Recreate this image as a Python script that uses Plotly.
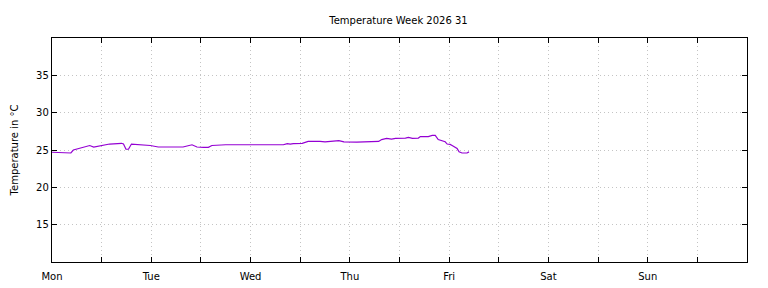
import plotly.graph_objects as go

# time in days since Monday 00:00, temperature in °C
days = [0.00, 0.19, 0.215, 0.28, 0.38, 0.42, 0.47, 0.58, 0.70, 0.72, 0.745, 0.77, 0.80, 0.89, 0.99,
        1.07, 1.32, 1.41, 1.46, 1.525, 1.575, 1.61, 1.68, 1.75, 2.33, 2.37, 2.40, 2.43, 2.52, 2.57,
        2.58, 2.70, 2.75, 2.89, 2.94, 3.07, 3.29, 3.32, 3.37, 3.42, 3.46, 3.56, 3.59, 3.63, 3.69,
        3.71, 3.76, 3.79, 3.83, 3.86, 3.89, 3.93, 3.96, 3.98, 4.01, 4.03, 4.06, 4.08, 4.10, 4.13,
        4.18, 4.20]
temps = [24.7, 24.6, 25.0, 25.2, 25.6, 25.4, 25.5, 25.8, 25.9, 25.8, 25.1, 25.1, 25.8, 25.7, 25.6,
         25.4, 25.4, 25.7, 25.4, 25.35, 25.35, 25.6, 25.7, 25.7, 25.7, 25.85, 25.8, 25.85, 25.9, 26.05,
         26.15, 26.15, 26.1, 26.25, 26.1, 26.05, 26.15, 26.4, 26.55, 26.45, 26.55, 26.6, 26.7, 26.55, 26.6,
         26.8, 26.8, 26.8, 26.95, 26.95, 26.4, 26.25, 26.1, 25.8, 25.75, 25.6, 25.4, 25.2, 24.75, 24.6,
         24.6, 24.75]

x_tickvals = [0, 0.5, 1, 1.5, 2, 2.5, 3, 3.5, 4, 4.5, 5, 5.5, 6, 6.5, 7]
x_ticktext = ["Mon", "", "Tue", "", "Wed", "", "Thu", "", "Fri", "", "Sat", "", "Sun", "", ""]
y_tickvals = [15, 20, 25, 30, 35]

fig = go.Figure()
fig.add_trace(go.Scatter(x=days, y=temps, mode="lines",
                         line=dict(color="#9400D3", width=1.2), showlegend=False))

font = "DejaVu Sans, Liberation Sans, sans-serif"
grid = dict(showgrid=True, gridcolor="#c4c4c4", griddash="1px,3px", gridwidth=1,
            showline=True, linecolor="black", linewidth=1.3, mirror="allticks",
            ticks="inside", ticklen=5, tickcolor="black", tickwidth=1.3,
            zeroline=False, fixedrange=True, automargin=False)
fig.update_layout(
    width=768, height=288,
    margin=dict(l=52, r=21, t=38, b=26),
    paper_bgcolor="white", plot_bgcolor="white",
    font=dict(family=font, size=10, color="black"),
    title=dict(text="Temperature Week 2026 31", x=398.5/768, xanchor="center",
               y=1 - 20/288, yanchor="middle", font=dict(size=10)),
    xaxis=dict(range=[0, 7], tickvals=x_tickvals, ticktext=x_ticktext,
               ticklabelstandoff=5, **grid),
    yaxis=dict(range=[10, 40], tickvals=y_tickvals,
               title=dict(text="Temperature in °C", standoff=15, font=dict(size=10)),
               **grid),
)

fig.write_html("out.html")
